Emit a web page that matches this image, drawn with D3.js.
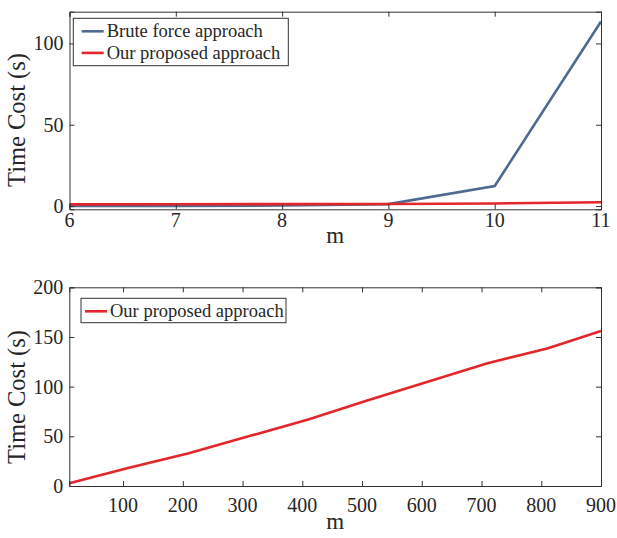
<!DOCTYPE html>
<html lang="en">
<head>
<meta charset="UTF-8">
<title>Time cost</title>
<script src="https://d3js.org/d3.v7.min.js"></script>
<style>
  body { margin: 0; background: #fff; }
  text { font-family: "Liberation Serif", "Times New Roman", serif; fill: #262626; }
</style>
</head>
<body>
<svg id="chart" width="617" height="538"></svg>
<script>
// top panel data
var mTop = [6, 7, 8, 9, 10, 11];
var bruteTop = [0.05, 0.1, 0.3, 1.2, 12.3, 113.5];
var oursTop = [1.0, 1.1, 1.2, 1.3, 1.6, 2.3];
var yTicksTop = [0, 50, 100];

// bottom panel data
var mBot = [10, 110, 210, 310, 410, 510, 610, 710, 810, 900];
var oursBot = [2.7, 18.3, 33, 50, 67, 86.3, 105, 123.5, 138.5, 156];
var xTicksBot = [100, 200, 300, 400, 500, 600, 700, 800, 900];
var yTicksBot = [0, 50, 100, 150, 200];

var blue = "#4e6a91";
var red = "#e3262c";
var axisColor = "#333";

var svg = d3.select("#chart");

function panel(opt) {
    var x = d3.scaleLinear().domain(opt.xDomain).range([opt.left, opt.right]);
    var y = d3.scaleLinear().domain(opt.yDomain).range([opt.bottom, opt.top]);
    var g = svg.append("g");

    // lines
    var line = d3.line().x(function (d) { return x(d[0]); }).y(function (d) { return y(d[1]); });
    opt.series.forEach(function (s) {
        g.append("path")
            .datum(opt.xs.map(function (v, i) { return [v, s.values[i]]; }))
            .attr("d", line)
            .attr("fill", "none")
            .attr("stroke", s.color)
            .attr("stroke-width", 2.6);
    });

    // box + inward ticks on all sides
    g.append("g").attr("transform", "translate(0," + opt.bottom + ")")
        .call(d3.axisBottom(x).tickValues(opt.xTicks).tickSize(-5).tickFormat(""));
    g.append("g").attr("transform", "translate(0," + opt.top + ")")
        .call(d3.axisTop(x).tickValues(opt.xTicks).tickSize(-5).tickFormat(""));
    g.append("g").attr("transform", "translate(" + opt.left + ",0)")
        .call(d3.axisLeft(y).tickValues(opt.yTicks).tickSize(-5).tickFormat(""));
    g.append("g").attr("transform", "translate(" + opt.right + ",0)")
        .call(d3.axisRight(y).tickValues(opt.yTicks).tickSize(-5).tickFormat(""));
    g.selectAll(".domain, .tick line").attr("stroke", axisColor).attr("stroke-width", 1);

    // tick labels
    g.selectAll(".xl").data(opt.xTicks).enter().append("text")
        .attr("x", function (d) { return x(d); })
        .attr("y", opt.xLabelY)
        .attr("text-anchor", "middle")
        .attr("font-size", 20)
        .text(function (d) { return d; });
    g.selectAll(".yl").data(opt.yTicks).enter().append("text")
        .attr("x", opt.left - 6)
        .attr("y", function (d) { return y(d) + 7; })
        .attr("text-anchor", "end")
        .attr("font-size", 20)
        .text(function (d) { return d; });

    // axis titles
    g.append("text")
        .attr("x", (opt.left + opt.right) / 2)
        .attr("y", opt.mY)
        .attr("text-anchor", "middle")
        .attr("font-size", 23)
        .text("m");
    g.append("text")
        .attr("transform", "translate(25," + opt.yTitleY + ") rotate(-90)")
        .attr("text-anchor", "middle")
        .attr("font-size", 24.5)
        .text("Time Cost (s)");

    // legend
    var lg = opt.legend;
    g.append("rect")
        .attr("x", lg.x).attr("y", lg.y).attr("width", lg.w).attr("height", lg.h)
        .attr("fill", "#fff").attr("stroke", axisColor).attr("stroke-width", 1);
    opt.series.forEach(function (s, i) {
        var cy = lg.y + 13 + i * 21.6;
        g.append("line")
            .attr("x1", lg.x + lg.pad).attr("x2", lg.x + lg.pad + 22)
            .attr("y1", cy).attr("y2", cy)
            .attr("stroke", s.color).attr("stroke-width", 2.6);
        g.append("text")
            .attr("x", lg.x + lg.pad + 25)
            .attr("y", cy + 6)
            .attr("font-size", 18.5)
            .text(s.name);
    });
}

panel({
    xs: mTop,
    series: [
        { name: "Brute force approach", values: bruteTop, color: blue },
        { name: "Our proposed approach", values: oursTop, color: red }
    ],
    xDomain: [6, 11], yDomain: [-2, 119.5],
    left: 69.5, right: 601, top: 11.7, bottom: 209.3,
    xTicks: mTop, yTicks: yTicksTop,
    xLabelY: 227, mY: 243, yTitleY: 120,
    legend: { x: 73.3, y: 18.3, w: 215, h: 47.4, pad: 8.4 }
});

panel({
    xs: mBot,
    series: [
        { name: "Our proposed approach", values: oursBot, color: red }
    ],
    xDomain: [10, 900], yDomain: [0, 200],
    left: 69.3, right: 601, top: 287.3, bottom: 486,
    xTicks: xTicksBot, yTicks: yTicksBot,
    xLabelY: 511.5, mY: 529, yTitleY: 397,
    legend: { x: 81, y: 298.3, w: 205, h: 24.4, pad: 4 }
});
</script>
</body>
</html>
